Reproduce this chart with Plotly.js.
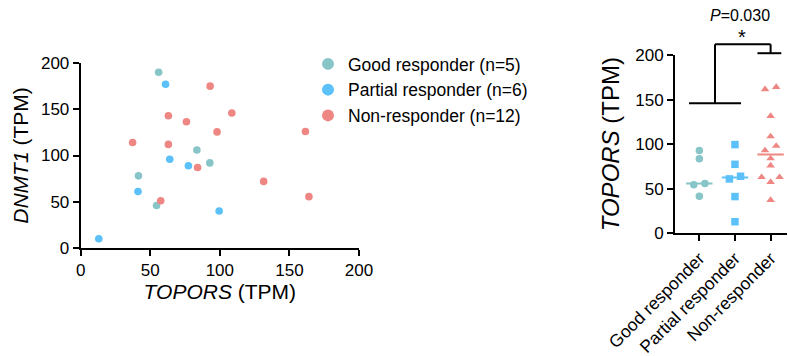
<!DOCTYPE html>
<html><head><meta charset="utf-8">
<script src="https://cdn.plot.ly/plotly-3.0.1.min.js"></script>
<style>html,body{margin:0;padding:0;background:#fff}#chart{width:788px;height:356px}</style>
</head><body><div id="chart"></div>
<script>
// ---- data ----
const groups = ["Good responder", "Partial responder", "Non-responder"];
const goodTOPORS = [56, 41.5, 54.5, 83.5, 92.8];
const goodDNMT1 = [190, 78, 46, 106, 92];
const partialTOPORS = [61, 64, 41.2, 77.4, 99.5, 13];
const partialDNMT1 = [177, 96, 61, 89, 40, 10];
const nonTOPORS = [93, 108.6, 63, 76, 98, 161.5, 37.3, 63, 84, 131.5, 164, 57.5];
const nonDNMT1 = [175, 146, 143, 136.5, 125.5, 126, 114, 112, 87, 72, 55.5, 51];
const pValueText = "<i>P</i>=0.030";
const sigText = "*";

// ---- style ----
const colors = ["#88C5C8", "#5BC1F8", "#EE8783"];
const symbols = ["circle", "square", "triangle-up"];
const FONT = "Liberation Sans, Arial, Helvetica, sans-serif";
const W = 788, H = 356;
const xDom1 = [80.7 / W, 359 / W], yDom1 = [(H - 248) / H, (H - 63) / H];
const xDom2 = [675 / W, 787 / W], yDom2 = [(H - 233.3) / H, (H - 55) / H];
const xRange2 = [-0.683, 2.46], yRange2 = [0, 200];

const tops = [goodTOPORS, partialTOPORS, nonTOPORS];
const dnmts = [goodDNMT1, partialDNMT1, nonDNMT1];

function median(a) {
  const s = a.slice().sort((p, q) => p - q), n = s.length;
  return n % 2 ? s[(n - 1) / 2] : (s[n / 2 - 1] + s[n / 2]) / 2;
}
// cluster-based swarm in pixel space
const pxPerCat = (xDom2[1] - xDom2[0]) * W / (xRange2[1] - xRange2[0]);
const pxPerUnit = (yDom2[1] - yDom2[0]) * H / (yRange2[1] - yRange2[0]);
function swarm(vals, center) {
  const idx = vals.map((v, i) => i).sort((a, b) => vals[a] - vals[b]);
  const diam = 6.6, step = 9;
  const clusters = [];
  idx.forEach((i, k) => {
    if (k > 0 && (vals[i] - vals[idx[k - 1]]) * pxPerUnit < diam) clusters[clusters.length - 1].push(i);
    else clusters.push([i]);
  });
  const xs = new Array(vals.length);
  clusters.forEach(c => {
    let offs;
    if (c.length === 1) offs = [0];
    else if (c.length === 2) offs = [-0.62, 0.62];
    else offs = c.map((_, j) => j === 0 ? 0 : (j % 2 ? -1 : 1) * Math.ceil(j / 2));
    c.forEach((i, j) => { xs[i] = center + offs[j] * step / pxPerCat; });
  });
  return xs;
}
function toPaperX(x) { return xDom2[0] + (x - xRange2[0]) / (xRange2[1] - xRange2[0]) * (xDom2[1] - xDom2[0]); }
function toPaperY(y) { return yDom2[0] + (y - yRange2[0]) / (yRange2[1] - yRange2[0]) * (yDom2[1] - yDom2[0]); }

const traces = [];
groups.forEach((g, i) => {
  traces.push({
    type: "scatter", mode: "markers", x: tops[i], y: dnmts[i],
    name: g + " (n=" + tops[i].length + ")",
    marker: { color: colors[i], size: 7.6, symbol: "circle", line: { width: 0 } },
    cliponaxis: false, xaxis: "x", yaxis: "y"
  });
});
groups.forEach((g, i) => {
  traces.push({
    type: "scatter", mode: "markers", x: swarm(tops[i], i), y: tops[i],
    showlegend: false,
    marker: { color: colors[i], size: 7.5, symbol: symbols[i], line: { width: 0 } },
    cliponaxis: false, xaxis: "x2", yaxis: "y2"
  });
  const m = median(tops[i]);
  traces.push({
    type: "scatter", mode: "lines", x: [i - 0.37, i + 0.37], y: [m, m], showlegend: false,
    line: { color: colors[i], width: 2 }, xaxis: "x2", yaxis: "y2", hoverinfo: "skip"
  });
});

const axCommon = {
  showgrid: false, zeroline: false, showline: true, linecolor: "#000", linewidth: 2,
  ticks: "outside", ticklen: 6, tickwidth: 2, tickcolor: "#000",
  tickfont: { family: FONT, size: 17, color: "#000" }, fixedrange: true
};

const L = (x0, y0, x1, y1) => ({
  type: "line", xref: "paper", yref: "paper",
  x0: toPaperX(x0), y0: toPaperY(y0), x1: toPaperX(x1), y1: toPaperY(y1),
  line: { color: "#000", width: 2 }
});
const shapes = [
  L(-0.29, 146, 1.17, 146),
  L(0.44, 146, 0.44, 212),
  L(0.44, 212, 2.0, 212),
  L(2.0, 212, 2.0, 202),
  L(1.63, 202, 2.3, 202)
];

const layout = {
  width: W, height: H, margin: { l: 0, r: 0, t: 0, b: 0 },
  paper_bgcolor: "#fff", plot_bgcolor: "rgba(0,0,0,0)",
  font: { family: FONT, color: "#000" },
  showlegend: true,
  legend: {
    x: 308 / W, y: (H - 46) / H, xanchor: "left", yanchor: "top",
    font: { family: FONT, size: 17.5, color: "#000" },
    itemsizing: "constant", bgcolor: "rgba(0,0,0,0)", tracegroupgap: 0
  },
  xaxis: Object.assign({}, axCommon, {
    domain: xDom1, range: [0, 200], tickvals: [0, 50, 100, 150, 200], anchor: "y",
    title: { text: "<i>TOPORS</i> (TPM)", font: { family: FONT, size: 21, color: "#000" }, standoff: 5 }
  }),
  yaxis: Object.assign({}, axCommon, {
    domain: yDom1, range: [0, 200], tickvals: [0, 50, 100, 150, 200], anchor: "x",
    title: { text: "<i>DNMT1</i> (TPM)", font: { family: FONT, size: 21, color: "#000" }, standoff: 7 }
  }),
  xaxis2: Object.assign({}, axCommon, {
    domain: xDom2, range: xRange2, tickvals: [0, 1, 2], ticktext: groups, tickangle: -45, anchor: "y2",
    tickfont: { family: FONT, size: 17.5, color: "#000" }
  }),
  yaxis2: Object.assign({}, axCommon, {
    domain: yDom2, range: yRange2, tickvals: [0, 50, 100, 150, 200], anchor: "x2",
    title: { text: "<i>TOPORS</i> (TPM)", font: { family: FONT, size: 24, color: "#000" }, standoff: 9 }
  }),
  shapes: shapes,
  annotations: [
    { xref: "paper", yref: "paper", x: toPaperX(1.15), y: (H - 15) / H, text: pValueText, showarrow: false,
      font: { family: FONT, size: 16, color: "#000" }, xanchor: "center", yanchor: "middle" },
    { xref: "paper", yref: "paper", x: toPaperX(1.2), y: (H - 37) / H, text: sigText, showarrow: false,
      font: { family: FONT, size: 20, color: "#000" }, xanchor: "center", yanchor: "middle" }
  ]
};

Plotly.newPlot("chart", traces, layout, { displayModeBar: false, staticPlot: true });
</script>
</body></html>
